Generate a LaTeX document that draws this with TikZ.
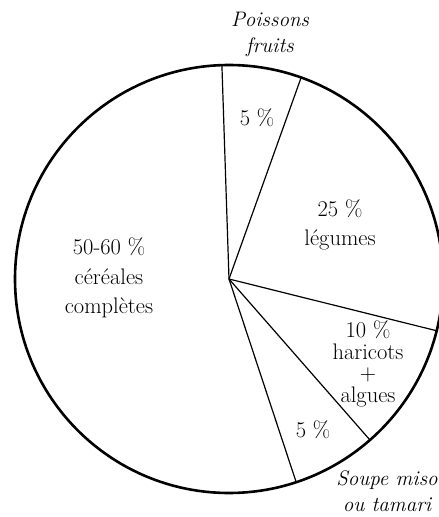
\documentclass[tikz,border=0pt]{standalone}
\usepackage{tikz}

\begin{document}
\begin{tikzpicture}[x=1pt,y=1pt,
  pct/.style={align=center,font=\fontsize{22.5}{29.5}\selectfont},
  tag/.style={align=center,font=\fontsize{21}{26}\selectfont\itshape},
  spoke/.style={line width=1.2pt}]
\useasboundingbox (-229,-238) rectangle (210,279);
\coordinate (hub) at (0,0);
\draw [line width=2.6pt] (hub) circle (214);
% spokes
\foreach \a [count=\i] in {91.9,70.3,-14,-48.8,-71.7}
  \coordinate (rim\i) at (\a:214);
\foreach \i in {1,...,5}
  \draw [spoke] (hub) -- (rim\i);
% labels
\node [tag] (fish) at (41,245) {Poissons\\fruits};
\node [pct] (fishp) at (28,161) {5 \%};
\node [pct] (veg) at (111,54) {25 \%\\légumes};
\node [pct] (grain) at (-120,1) {50-60 \%\\céréales\\complètes};
\node [pct,font=\fontsize{22.5}{21.7}\selectfont] (beans) at (139,-85) {10 \%\\haricots\\+\\algues};
\node [pct] (soupp) at (84,-151) {5 \%};
\node [tag] (soup) at (158,-212) {Soupe miso\\ou tamari};
\end{tikzpicture}
\end{document}
